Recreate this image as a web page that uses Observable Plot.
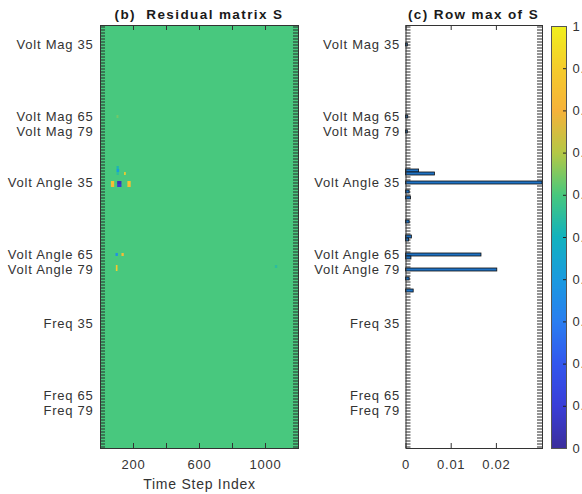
<!DOCTYPE html>
<html><head><meta charset="utf-8">
<script src="https://cdn.jsdelivr.net/npm/d3@7"></script>
<script src="https://cdn.jsdelivr.net/npm/@observablehq/plot@0.6"></script>
<style>
html,body{margin:0;padding:0;background:#fff;overflow:hidden;}
#chart{position:relative;width:582px;height:494px;font-family:"Liberation Sans",Arial,sans-serif;color:#333;}
#chart svg{position:absolute;top:0;}
.title{position:absolute;top:7px;font-weight:bold;font-size:13.5px;line-height:16px;letter-spacing:1.4px;text-align:center;color:#1a1a1a;white-space:pre;}
</style></head><body><div id="chart"></div>
<script>
// ---- data ----
const rowIndex = d3.range(141);               // 3 groups x 47 measurement rows
const labeledRows = [6, 30, 35, 52, 76, 81, 99, 123, 128];
const labeledNames = ["Volt Mag 35", "Volt Mag 65", "Volt Mag 79",
  "Volt Angle 35", "Volt Angle 65", "Volt Angle 79",
  "Freq 35", "Freq 65", "Freq 79"];
const timeRange = [0, 1200];
const timeTicks = [200, 400, 600, 800, 1000];
const timeTickLabels = [200, 600, 1000];
const residualBackground = 0.6;
// residual spots (row, start step, end step, colormap value)
const spotRow   = [30,  47,  48,  49,  49,  52,  52,  52,  53,  53,  53,  76,  76,  80,  81,  80];
const spotStart = [100, 100, 100, 100, 146, 66,  104, 166, 66,  104, 166, 94,  130, 96,  96,  1060];
const spotEnd   = [112, 114, 116, 114, 156, 86,  130, 186, 86,  130, 186, 108, 144, 106, 106, 1074];
const spotValue = [0.64,0.52,0.42,0.55,0.9, 0.85,0.04,0.86,0.83,0.08,0.84,0.36,0.83,0.88,0.9, 0.55];
// row max of S
const rowMaxRow   = [6,      30,     35,     48,     49,     52,     55,     57,     65,     70,     71,     76,     77,     81,     84,     88];
const rowMaxValue = [0.0004, 0.0005, 0.0004, 0.0029, 0.0064, 0.0302, 0.0008, 0.0011, 0.0008, 0.0013, 0.0007, 0.0167, 0.0012, 0.0202, 0.0008, 0.0017];
const rowMaxLimit = 0.0302;
const rowMaxTicks = [0, 0.01, 0.02];
const colorTicks = [0, 0.1, 0.2, 0.3, 0.4, 0.5, 0.6, 0.7, 0.8, 0.9, 1];
const colorStops = ["#3b2e9c", "#3a3ed8", "#3256ee", "#2a7ef0", "#1a9ae0", "#12b2be",
  "#48c87e", "#b4c846", "#f6b23a", "#f5cc2c", "#f0f01e"];

// ---- build ----
const labelMap = new Map(labeledRows.map((r, i) => [r, labeledNames[i]]));
const spots = spotRow.map((r, i) => ({row: r, t0: spotStart[i], t1: spotEnd[i], v: spotValue[i]}));
const bars = rowMaxRow.map((r, i) => ({row: r, v: rowMaxValue[i]}));
const parula = d3.piecewise(d3.interpolateRgb, colorStops);
const colorScale = {type: "linear", domain: [0, 1], interpolate: parula};
const baseStyle = {fontFamily: '"Liberation Sans", Arial, sans-serif', fontSize: "13px",
  letterSpacing: "0.75px", background: "none", color: "#333", overflow: "visible"};
const chart = document.getElementById("chart");
const TICK = 5;

// panel (b)
const hW = 198, hH = 423;
const heat = Plot.plot({
  width: 302, height: 494, marginLeft: 100, marginRight: 4, marginTop: 25, marginBottom: 46,
  style: baseStyle,
  x: {domain: timeRange, label: null},
  y: {domain: rowIndex, padding: 0, label: null},
  color: colorScale,
  marks: [
    Plot.barX(rowIndex, {x1: timeRange[0], x2: timeRange[1], y: d => d, fill: () => residualBackground, shapeRendering: "crispEdges"}),
    Plot.barX(spots, {x1: "t0", x2: "t1", y: "row", fill: "v"}),
    Plot.tickY(rowIndex, {y: d => d, insetRight: hW - TICK, stroke: "#2a2a2a", strokeWidth: 1}),
    Plot.tickY(rowIndex, {y: d => d, insetLeft: hW - TICK, stroke: "#2a2a2a", strokeWidth: 1}),
    Plot.tickX(timeTicks, {x: d => d, insetTop: hH - TICK, stroke: "#333"}),
    Plot.tickX(timeTicks, {x: d => d, insetBottom: hH - TICK, stroke: "#333"}),
    Plot.frame({stroke: "#333"}),
    Plot.axisY({anchor: "left", tickSize: 0, tickPadding: 7, label: null, tickFormat: d => labelMap.get(d) ?? ""}),
    Plot.axisX({anchor: "bottom", ticks: timeTicks, tickSize: 0, tickPadding: 11, label: null,
      tickFormat: d => timeTickLabels.includes(d) ? String(d) : ""}),
    Plot.text(["Time Step Index"], {text: d => d, frameAnchor: "bottom", dy: 31, lineAnchor: "top", fontSize: 14})
  ]
});
heat.style.left = "0px";
chart.appendChild(heat);

// panel (c)
const rW = 136.5, rH = 423;
const rmax = Plot.plot({
  width: 246, height: 494, marginLeft: 105.5, marginRight: 4, marginTop: 25, marginBottom: 46,
  style: baseStyle,
  x: {domain: [0, rowMaxLimit], label: null},
  y: {domain: rowIndex, padding: 0, label: null},
  marks: [
    Plot.tickY(rowIndex, {y: d => d, insetRight: rW - TICK, stroke: "#2a2a2a", strokeWidth: 1}),
    Plot.tickY(rowIndex, {y: d => d, insetLeft: rW - TICK, stroke: "#2a2a2a", strokeWidth: 1}),
    Plot.tickX(rowMaxTicks, {x: d => d, insetTop: rH - TICK, stroke: "#333"}),
    Plot.tickX(rowMaxTicks, {x: d => d, insetBottom: rH - TICK, stroke: "#333"}),
    Plot.barX(bars, {x: "v", y: "row", fill: "#1f72c4", stroke: "#111", strokeWidth: 0.8, insetTop: 0, insetBottom: 0}),
    Plot.frame({stroke: "#333"}),
    Plot.axisY({anchor: "left", tickSize: 0, tickPadding: 6, label: null, tickFormat: d => labelMap.get(d) ?? ""}),
    Plot.axisX({anchor: "bottom", ticks: rowMaxTicks, tickSize: 0, tickPadding: 11, label: null,
      tickFormat: d => d === 0 ? "0" : d3.format(".2f")(d)})
  ]
});
rmax.style.left = "300px";
chart.appendChild(rmax);

// colorbar
const cW = 15;
const cbar = Plot.plot({
  width: 42, height: 494, marginLeft: 11, marginRight: 16, marginTop: 26, marginBottom: 46,
  style: baseStyle,
  x: {domain: [0, 1], axis: null},
  y: {domain: [0, 1], label: null},
  color: colorScale,
  marks: [
    Plot.raster({fill: (x, y) => y, x1: 0, x2: 1, y1: 0, y2: 1, width: 1, height: 421, imageRendering: "auto"}),
    Plot.tickY(colorTicks, {y: d => d, insetLeft: cW - 3, stroke: "#222"}),
    Plot.frame({stroke: "#555"}),
    Plot.axisY({anchor: "right", ticks: colorTicks, tickSize: 0, tickPadding: 6, label: null, tickFormat: d3.format("~g")})
  ]
});
cbar.style.left = "540px";
chart.appendChild(cbar);

const t1 = document.createElement("div");
t1.className = "title"; t1.style.left = "100px"; t1.style.width = "198px";
t1.textContent = "(b)  Residual matrix S";
chart.appendChild(t1);
const t2 = document.createElement("div");
t2.className = "title"; t2.style.left = "405px"; t2.style.width = "137px";
t2.textContent = "(c) Row max of S";
chart.appendChild(t2);
</script></body></html>
